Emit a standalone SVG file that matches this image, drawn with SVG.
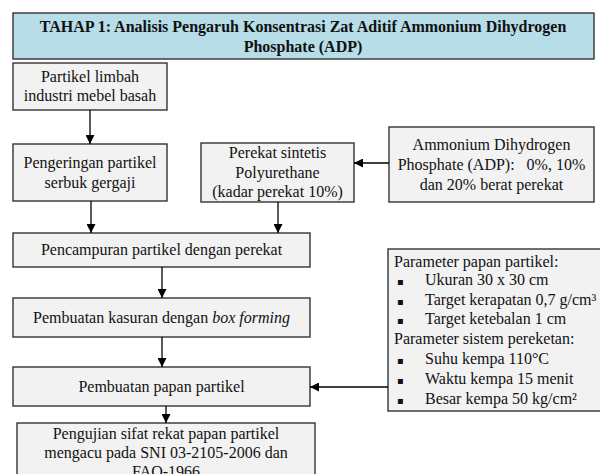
<svg xmlns="http://www.w3.org/2000/svg" width="600" height="474" viewBox="0 0 600 474">
<defs>
<marker id="ah" viewBox="0 0 10 10" refX="10" refY="5" markerWidth="9" markerHeight="9" markerUnits="userSpaceOnUse" orient="auto">
<path d="M0,0 L10,5 L0,10 Z" fill="#000"/>
</marker>
<style>
.box{fill:#f2f2f2;stroke:#333;stroke-width:1.4}
.hdr{fill:#b6dde8;stroke:#333;stroke-width:1.4}
.t{font-family:"Liberation Serif","Times New Roman",serif;font-size:16px;fill:#111}
.c{text-anchor:middle}
.b{font-weight:bold}
.bul{font-family:"DejaVu Sans",sans-serif;font-size:10px;fill:#111}
.ln{stroke:#000;stroke-width:1.3;fill:none;marker-end:url(#ah)}
</style>
</defs>
<rect width="600" height="474" fill="#fff"/>
<g id="header">
<rect class="hdr" x="13" y="13" width="581" height="46"/>
<text class="t c b" x="303" y="32">TAHAP 1: Analisis Pengaruh Konsentrasi Zat Aditif Ammonium Dihydrogen</text>
<text class="t c b" x="303" y="52">Phosphate (ADP)</text>
</g>
<g id="n1">
<rect class="box" x="13" y="63" width="154" height="47"/>
<text class="t c" x="90" y="82">Partikel limbah</text>
<text class="t c" x="90" y="101">industri mebel basah</text>
</g>
<g id="n2">
<rect class="box" x="13" y="144" width="154" height="57"/>
<text class="t c" x="90" y="168">Pengeringan partikel</text>
<text class="t c" x="90" y="188">serbuk gergaji</text>
</g>
<g id="n3">
<rect class="box" x="201" y="143" width="153" height="59"/>
<text class="t c" x="277.5" y="158">Perekat sintetis</text>
<text class="t c" x="277.5" y="178">Polyurethane</text>
<text class="t c" x="277.5" y="197">(kadar perekat 10%)</text>
</g>
<g id="n4">
<rect class="box" x="389" y="127" width="205" height="75"/>
<text class="t c" x="491.5" y="150">Ammonium Dihydrogen</text>
<text class="t c" x="491.5" y="170" xml:space="preserve">Phosphate (ADP):   0%, 10%</text>
<text class="t c" x="491.5" y="190">dan 20% berat perekat</text>
</g>
<g id="n5">
<rect class="box" x="13" y="233" width="297" height="34"/>
<text class="t c" x="161.5" y="255">Pencampuran partikel dengan perekat</text>
</g>
<g id="n6">
<rect class="box" x="13" y="298" width="297" height="39"/>
<text class="t c" x="161.5" y="323">Pembuatan kasuran dengan <tspan font-style="italic">box forming</tspan></text>
</g>
<g id="n7">
<rect class="box" x="13" y="367" width="297" height="39"/>
<text class="t c" x="161.5" y="392">Pembuatan papan partikel</text>
</g>
<g id="n8">
<rect class="box" x="17" y="423" width="298" height="60"/>
<text class="t c" x="166" y="439">Pengujian sifat rekat papan partikel</text>
<text class="t c" x="166" y="458">mengacu pada SNI 03-2105-2006 dan</text>
<text class="t c" x="166" y="477">FAO-1966</text>
</g>
<g id="n9">
<rect class="box" x="388" y="249" width="216" height="162"/>
<text class="t" x="394" y="267">Parameter papan partikel:</text>
<text class="bul" x="397" y="285">▪</text><text class="t" x="425" y="285">Ukuran 30 x 30 cm</text>
<text class="bul" x="397" y="305">▪</text><text class="t" x="425" y="305">Target kerapatan 0,7 g/cm³</text>
<text class="bul" x="397" y="324">▪</text><text class="t" x="425" y="324">Target ketebalan 1 cm</text>
<text class="t" x="394" y="344">Parameter sistem pereketan:</text>
<text class="bul" x="397" y="364">▪</text><text class="t" x="425" y="364">Suhu kempa 110°C</text>
<text class="bul" x="397" y="384">▪</text><text class="t" x="425" y="384">Waktu kempa 15 menit</text>
<text class="bul" x="397" y="404">▪</text><text class="t" x="425" y="404">Besar kempa 50 kg/cm²</text>
</g>
<g id="connectors">
<line class="ln" x1="90" y1="110" x2="90" y2="144"/>
<line class="ln" x1="91" y1="201" x2="91" y2="233"/>
<line class="ln" x1="278" y1="202" x2="278" y2="233"/>
<line class="ln" x1="389" y1="163" x2="354" y2="163"/>
<line class="ln" x1="162" y1="267" x2="162" y2="298"/>
<line class="ln" x1="162" y1="337" x2="162" y2="367"/>
<line class="ln" x1="166" y1="406" x2="166" y2="423"/>
<line class="ln" x1="388" y1="387" x2="310" y2="387"/>
</g>
</svg>
